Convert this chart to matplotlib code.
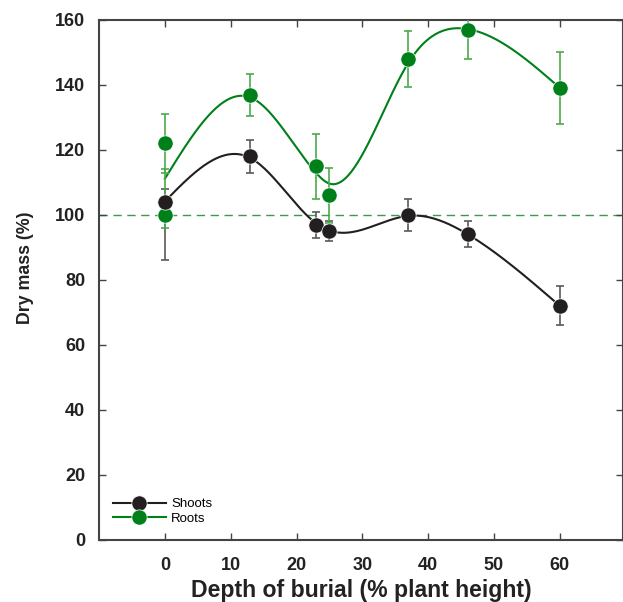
import numpy as np
import matplotlib
matplotlib.use("Agg")
import matplotlib.pyplot as plt
from matplotlib.lines import Line2D

# Values
depth_shoots = [0, 13, 23, 25, 37, 46, 60]
shoots = [104, 118, 97, 95, 100, 94, 72]
shoots_err_low = [18, 5, 4, 3, 5, 4, 6]
shoots_err_high = [4, 5, 4, 3, 5, 4, 6]

depth_roots = [0, 0, 13, 23, 25, 37, 46, 60]
roots = [122, 100, 137, 115, 106, 148, 157, 139]
roots_err_low = [9, 4, 6.5, 10, 8.5, 8.5, 9, 11]
roots_err_high = [9, 14, 6.5, 10, 8.5, 8.5, 9, 11]

BLACK = "#231f20"
GREEN = "#00801a"


def smooth_spline(x, y, lam, n_out=400):
    # cubic smoothing spline (Reinsch), duplicates at same x are averaged
    x = np.asarray(x, float)
    y = np.asarray(y, float)
    xu = np.unique(x)
    yu = np.array([y[x == v].mean() for v in xu])
    w = np.array([(x == v).sum() for v in xu], float)
    n = len(xu)
    h = np.diff(xu)
    Q = np.zeros((n, n - 2))
    R = np.zeros((n - 2, n - 2))
    for j in range(n - 2):
        Q[j, j] = 1 / h[j]
        Q[j + 1, j] = -1 / h[j] - 1 / h[j + 1]
        Q[j + 2, j] = 1 / h[j + 1]
        R[j, j] = (h[j] + h[j + 1]) / 3
        if j < n - 3:
            R[j, j + 1] = R[j + 1, j] = h[j + 1] / 6
    K = Q @ np.linalg.solve(R, Q.T)
    W = np.diag(w)
    g = np.linalg.solve(W + lam * K, W @ yu)
    gam = np.concatenate([[0], np.linalg.solve(R, Q.T @ g), [0]])
    xs = np.linspace(xu[0], xu[-1], n_out)
    ys = np.empty_like(xs)
    for k, t in enumerate(xs):
        i = min(np.searchsorted(xu, t, side="right") - 1, n - 2)
        hh = xu[i + 1] - xu[i]
        a = (xu[i + 1] - t) / hh
        b = (t - xu[i]) / hh
        ys[k] = a * g[i] + b * g[i + 1] + ((a**3 - a) * gam[i] + (b**3 - b) * gam[i + 1]) * hh**2 / 6
    return xs, ys


plt.rcParams["font.family"] = ["Liberation Sans", "DejaVu Sans"]

fig = plt.figure(figsize=(6.23, 6.02), dpi=100)
ax = fig.add_axes([0.159, 0.103, 0.841, 0.864])

# reference line at 100 %
ax.axhline(100, color="#3b9b4b", lw=1.0, dashes=(6, 4), zorder=1)

# smooth curves
xs, ys = smooth_spline(depth_shoots, shoots, 4.0)
ax.plot(xs, ys, color=BLACK, lw=1.5, zorder=2)
xs, ys = smooth_spline(depth_roots, roots, 6.0)
ax.plot(xs, ys, color=GREEN, lw=1.5, zorder=2)

# error bars
ax.errorbar(depth_shoots, shoots, yerr=[shoots_err_low, shoots_err_high], fmt="none",
            ecolor="#5a5a5a", elinewidth=1.2, capsize=3, capthick=1.2, zorder=3)
ax.errorbar(depth_roots, roots, yerr=[roots_err_low, roots_err_high], fmt="none",
            ecolor="#4caa4c", elinewidth=1.2, capsize=3, capthick=1.2, zorder=3)

# points
ax.plot(depth_roots, roots, "o", color=GREEN, ms=11, mec="white", mew=0.5, zorder=4)
ax.plot(depth_shoots, shoots, "o", color=BLACK, ms=11, mec="white", mew=0.5, zorder=5)

ax.set_xlim(-10, 69.6)
ax.set_ylim(0, 160)
ax.set_xticks(range(0, 61, 10))
ax.set_yticks(range(0, 161, 20))
ax.tick_params(direction="in", length=5, width=1, color="#444444", top=True, right=True,
               labelsize=13)
ax.tick_params(axis="x", pad=12)
ax.tick_params(axis="y", pad=10)
for lab in ax.get_xticklabels() + ax.get_yticklabels():
    lab.set_fontweight("bold")
    lab.set_color("#222222")
for s in ax.spines.values():
    s.set_color("#444444")
    s.set_linewidth(1.5)

ax.set_xlabel("Depth of burial (% plant height)", fontsize=16.6, fontweight="bold",
              color="#222222", labelpad=4)
ax.set_ylabel("Dry mass (%)", fontsize=12.8, fontweight="bold", color="#222222")
ax.yaxis.set_label_coords(-0.124, 0.523)

handles = [
    Line2D([], [], color=BLACK, lw=1.5, marker="o", ms=11, mec="white", mew=0.5),
    Line2D([], [], color=GREEN, lw=1.5, marker="o", ms=11, mec="white", mew=0.5),
]
ax.legend(handles, ["Shoots", "Roots"], loc="lower left", bbox_to_anchor=(113 / 623, 77 / 602),
          bbox_transform=fig.transFigure, frameon=False, fontsize=9.5, handlelength=4,
          handletextpad=0.4, labelspacing=0.2, borderpad=0, borderaxespad=0)

fig.savefig("out.png", dpi=100)
